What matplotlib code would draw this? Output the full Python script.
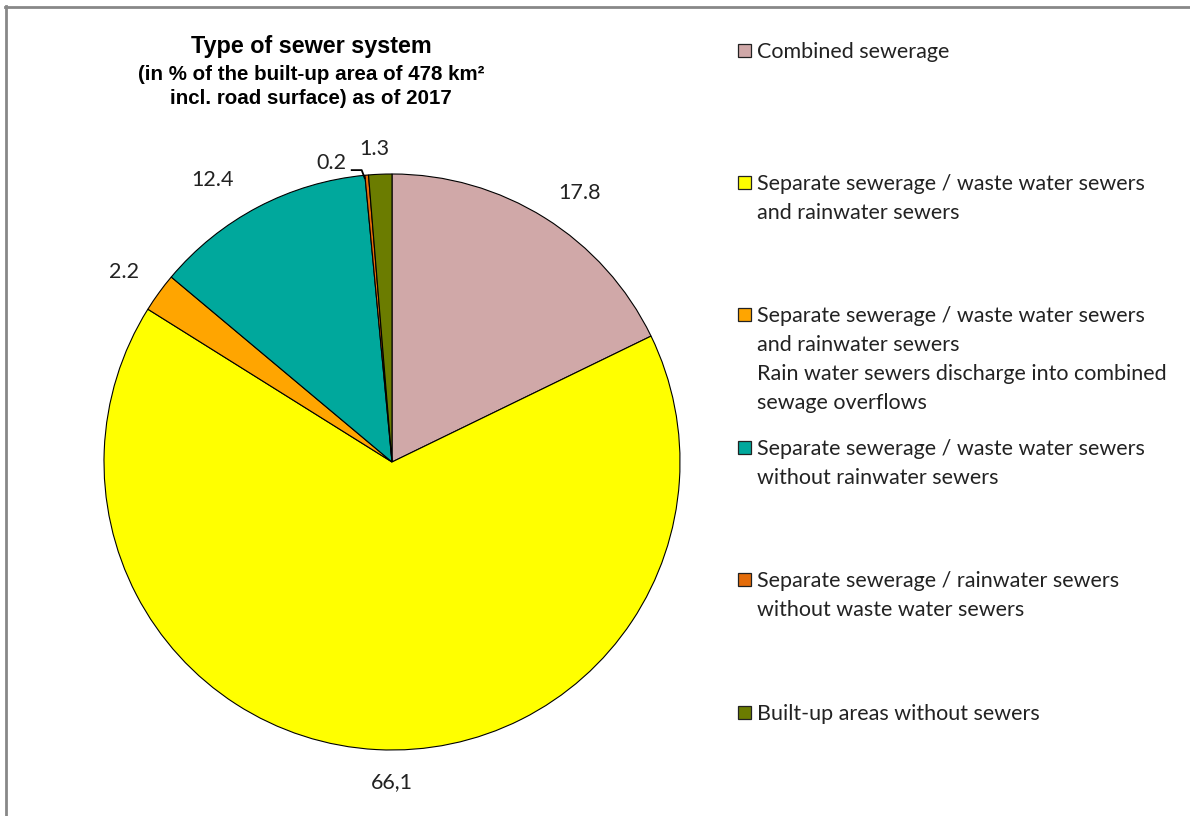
import numpy as np
import matplotlib.pyplot as plt
from matplotlib.patches import Rectangle
from matplotlib.lines import Line2D

categories = [
    "Combined sewerage",
    "Separate sewerage / waste water sewers\nand rainwater sewers",
    "Separate sewerage / waste water sewers\nand rainwater sewers\nRain water sewers discharge into combined\nsewage overflows",
    "Separate sewerage / waste water sewers\nwithout rainwater sewers",
    "Separate sewerage / rainwater sewers\nwithout waste water sewers",
    "Built-up areas without sewers",
]
values = [17.8, 66.1, 2.2, 12.4, 0.2, 1.3]
value_labels = ["17.8", "66,1", "2.2", "12.4", "0.2", "1.3"]
colors = ["#D0A8A8", "#FFFF00", "#FFA500", "#00A89C", "#E46C0A", "#6B7C00"]

W, H = 1190, 816
fig = plt.figure(figsize=(W / 100, H / 100), dpi=100)
ax = fig.add_axes([0, 0, 1, 1])

cx, cy, r = 392, H - 462, 288
wedges, _ = ax.pie(values, colors=colors, startangle=90, counterclock=False,
                   center=(cx, cy), radius=r, frame=True,
                   wedgeprops=dict(edgecolor="black", linewidth=0.8))
ax.set_xlim(0, W)
ax.set_ylim(0, H)
ax.set_aspect("equal")
ax.axis("off")

lab_font = dict(family=["Lato", "DejaVu Sans"], fontsize=15.5, color="#222222")
# per-label nudges (angle in degrees, radial distance in radii)
shift = [-2.9, 3.0, 0.6, 4.8, None, 0.8]
dist = [1.14, 1.11, 1.14, 1.16, None, 1.09]
for i, w in enumerate(wedges):
    mid = (w.theta1 + w.theta2) / 2
    if dist[i] is None:
        # tiny slice: label pushed left with an elbow leader line
        a = np.deg2rad(mid)
        ex, ey = cx + r * np.cos(a), cy + r * np.sin(a)
        ax.plot([ex - 15, ex - 5, ex - 2], [ey + 5, ey + 5, ey - 3],
                color="black", lw=1.3)
        ax.text(ex - 20, ey + 12, value_labels[i], ha="right", va="center",
                **lab_font)
        continue
    a = np.deg2rad(mid + shift[i])
    x = cx + r * dist[i] * np.cos(a)
    y = cy + r * dist[i] * np.sin(a)
    ax.text(x, y, value_labels[i], ha="center", va="center", **lab_font)

# title
tfont = ["Liberation Sans", "DejaVu Sans"]
ax.text(311, H - 47, "Type of sewer system", ha="center", va="center",
        family=tfont, fontweight="bold", fontsize=16.8)
ax.text(311, H - 74, "(in % of the built-up area of 478 km²", ha="center",
        va="center", family=tfont, fontweight="bold", fontsize=14.8)
ax.text(311, H - 98, "incl. road surface) as of 2017", ha="center",
        va="center", family=tfont, fontweight="bold", fontsize=14.8)

# legend
leg_font = dict(family=["Lato", "DejaVu Sans"], fontsize=15.5, color="#222222")
for i, (cat, col) in enumerate(zip(categories, colors)):
    y = H - (50 + 132.4 * i)
    ax.add_patch(Rectangle((738, y - 6.5), 13, 13, facecolor=col,
                           edgecolor="#222222", linewidth=0.9))
    ax.text(757, y + 8.5, cat, ha="left", va="top", linespacing=1.55,
            **leg_font)

# border (only top and left edges are visible)
fig.add_artist(Line2D([5, W], [H - 7, H - 7], transform=None,
                      color="#888888", lw=2))
fig.add_artist(Line2D([6, 6], [0, H - 6], transform=None,
                      color="#888888", lw=2))

fig.savefig("out.png", dpi=100)
